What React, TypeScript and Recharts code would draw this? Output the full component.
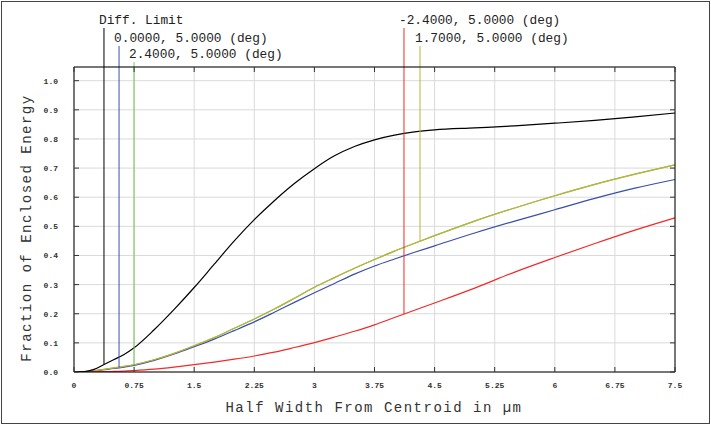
import { LineChart, Line, XAxis, YAxis, CartesianGrid, ReferenceLine } from 'recharts';

// half width from centroid (µm)
const radius = [0, 0.15, 0.25, 0.375, 0.5, 0.625, 0.75, 1, 1.25, 1.5, 1.75, 2, 2.25, 2.5, 2.75, 3, 3.25, 3.5, 3.75, 4, 4.25, 4.5, 5, 5.5, 6, 6.5, 7, 7.5];

const diffLimit = [0, 0.002, 0.009, 0.026, 0.043, 0.06, 0.083, 0.145, 0.215, 0.29, 0.37, 0.45, 0.523, 0.588, 0.647, 0.698, 0.742, 0.774, 0.797, 0.813, 0.824, 0.831, 0.838, 0.845, 0.854, 0.864, 0.876, 0.889];
const field00 = [0, 0.001, 0.004, 0.008, 0.012, 0.017, 0.023, 0.04, 0.062, 0.087, 0.113, 0.142, 0.172, 0.205, 0.239, 0.272, 0.304, 0.336, 0.364, 0.388, 0.411, 0.433, 0.477, 0.518, 0.557, 0.596, 0.631, 0.661];
const field24 = [0, 0.001, 0.004, 0.009, 0.014, 0.019, 0.025, 0.042, 0.064, 0.09, 0.118, 0.15, 0.182, 0.216, 0.253, 0.291, 0.324, 0.356, 0.386, 0.415, 0.442, 0.468, 0.518, 0.563, 0.605, 0.644, 0.679, 0.711];
const fieldM24 = [0, 0, 0.001, 0.001, 0.002, 0.003, 0.005, 0.01, 0.017, 0.025, 0.034, 0.044, 0.055, 0.068, 0.084, 0.101, 0.12, 0.14, 0.162, 0.187, 0.212, 0.237, 0.288, 0.343, 0.393, 0.441, 0.487, 0.529];
const field17 = [0, 0.001, 0.004, 0.009, 0.014, 0.019, 0.025, 0.042, 0.064, 0.09, 0.118, 0.15, 0.182, 0.216, 0.253, 0.291, 0.324, 0.356, 0.386, 0.415, 0.442, 0.468, 0.518, 0.563, 0.605, 0.644, 0.679, 0.711];

const xTicks = [0, 0.75, 1.5, 2.25, 3, 3.75, 4.5, 5.25, 6, 6.75, 7.5];
const yTicks = [0, 0.1, 0.2, 0.3, 0.4, 0.5, 0.6, 0.7, 0.8, 0.9, 1.0];

// leader lines for the series labels
const markerLabels = ['Diff. Limit', '0.0000, 5.0000 (deg)', '2.4000, 5.0000 (deg)', '-2.4000, 5.0000 (deg)', '1.7000, 5.0000 (deg)'];
const markerRadius = [0.374, 0.562, 0.749, 4.118, 4.318];
const markerValue = [0.026, 0.015, 0.025, 0.199, 0.449];
const markerTop = [1.181, 1.119, 1.064, 1.181, 1.119];

const colors = {
  diff: '#000000',
  f00: '#3a4fa8',
  f24: '#78c25a',
  fm24: '#f22a2a',
  f17: '#bbb43a',
};
const markerColors = [colors.diff, colors.f00, colors.f24, colors.fm24, colors.f17];

const data = radius.map((r, i) => ({
  r,
  diff: diffLimit[i],
  f00: field00[i],
  f24: field24[i],
  fm24: fieldM24[i],
  f17: field17[i],
}));

const mono = '"Liberation Mono", "DejaVu Sans Mono", monospace';

function LeftTick({ x, y, payload }: any) {
  return (
    <g>
      <line x1={x + 16} x2={x + 21} y1={y} y2={y} stroke='#333' />
      <text x={x} y={y} dy={3} textAnchor='end' fontSize={8} fontFamily={mono} fontWeight='bold' fill='#333'>
        {Number(payload.value).toFixed(1)}
      </text>
    </g>
  );
}

function BottomTick({ x, y, payload }: any) {
  return (
    <g>
      <line x1={x} x2={x} y1={y - 6} y2={y - 11} stroke='#333' />
      <text x={x} y={y} dy={10} textAnchor='middle' fontSize={8} fontFamily={mono} fontWeight='bold' fill='#333'>
        {String(payload.value)}
      </text>
    </g>
  );
}

function TopTick({ x, y }: any) {
  return <line x1={x} x2={x} y1={y} y2={y + 5} stroke='#333' />;
}

function RightTick({ x, y }: any) {
  return <line x1={x} x2={x - 5} y1={y} y2={y} stroke='#333' />;
}

function MarkerLabel({ viewBox, text }: any) {
  if (!viewBox) return null;
  return (
    <text x={viewBox.x - 5} y={viewBox.y - 4} fontSize={12.8} fontFamily={mono} fill='#222'>
      {text}
    </text>
  );
}

export default function App() {
  return (
    <div style={{ position: 'absolute', left: 0, top: 0, width: 711, height: 426, background: '#fff' }}>
      <div
        style={{
          position: 'absolute',
          left: 1,
          top: 1,
          width: 709,
          height: 423,
          border: '1px solid #444',
          boxSizing: 'border-box',
        }}
      />
      <LineChart width={711} height={426} data={data} margin={{ top: 0, right: 0, left: 0, bottom: 0 }}>
        <CartesianGrid stroke='#dadada' strokeWidth={1} />
        <XAxis
          dataKey='r'
          type='number'
          domain={[0, 7.5]}
          ticks={xTicks}
          height={54}
          tickSize={0}
          tickMargin={6}
          tickLine={false}
          axisLine={{ stroke: '#000' }}
          tick={<BottomTick />}
          interval={0}
          label={{
            content: () => (
              <text x={374} y={408} textAnchor='middle' dominantBaseline='central' fontSize={14} letterSpacing={1.5} fontFamily={mono} fill='#333'>
                Half Width From Centroid in µm
              </text>
            ),
          }}
        />
        <XAxis
          xAxisId='top'
          orientation='top'
          dataKey='r'
          type='number'
          domain={[0, 7.5]}
          ticks={xTicks}
          height={67}
          tickSize={0}
          tickMargin={0}
          tickLine={false}
          axisLine={{ stroke: '#000' }}
          tick={<TopTick />}
          interval={0}
        />
        <YAxis
          type='number'
          domain={[0, 1.047]}
          ticks={yTicks}
          width={74}
          tickSize={0}
          tickMargin={16}
          tickLine={false}
          axisLine={{ stroke: '#000' }}
          tick={<LeftTick />}
          interval={0}
          allowDataOverflow
          label={{
            content: () => (
              <text
                transform='translate(27,228) rotate(-90)'
                textAnchor='middle'
                dominantBaseline='central'
                fontSize={14}
                letterSpacing={1.5}
                fontFamily={mono}
                fill='#333'
              >
                Fraction of Enclosed Energy
              </text>
            ),
          }}
        />
        <YAxis
          yAxisId='right'
          orientation='right'
          type='number'
          domain={[0, 1.047]}
          ticks={yTicks}
          width={36}
          tickSize={0}
          tickMargin={0}
          tickLine={false}
          axisLine={{ stroke: '#000' }}
          tick={<RightTick />}
          interval={0}
          allowDataOverflow
        />
        <Line type='monotone' dataKey='f24' stroke={colors.f24} strokeWidth={1.2} dot={false} isAnimationActive={false} />
        <Line type='monotone' dataKey='f00' stroke={colors.f00} strokeWidth={1.2} dot={false} isAnimationActive={false} />
        <Line type='monotone' dataKey='f17' stroke={colors.f17} strokeWidth={1.2} dot={false} isAnimationActive={false} />
        <Line type='monotone' dataKey='fm24' stroke={colors.fm24} strokeWidth={1.2} dot={false} isAnimationActive={false} />
        <Line type='monotone' dataKey='diff' stroke={colors.diff} strokeWidth={1.2} dot={false} isAnimationActive={false} />
        {markerLabels.map((text, i) => (
          <ReferenceLine
            key={text}
            segment={[
              { x: markerRadius[i], y: markerValue[i] },
              { x: markerRadius[i], y: markerTop[i] },
            ]}
            stroke={markerColors[i]}
            strokeWidth={1}
            ifOverflow='visible'
            label={<MarkerLabel text={text} />}
          />
        ))}
      </LineChart>
    </div>
  );
}
